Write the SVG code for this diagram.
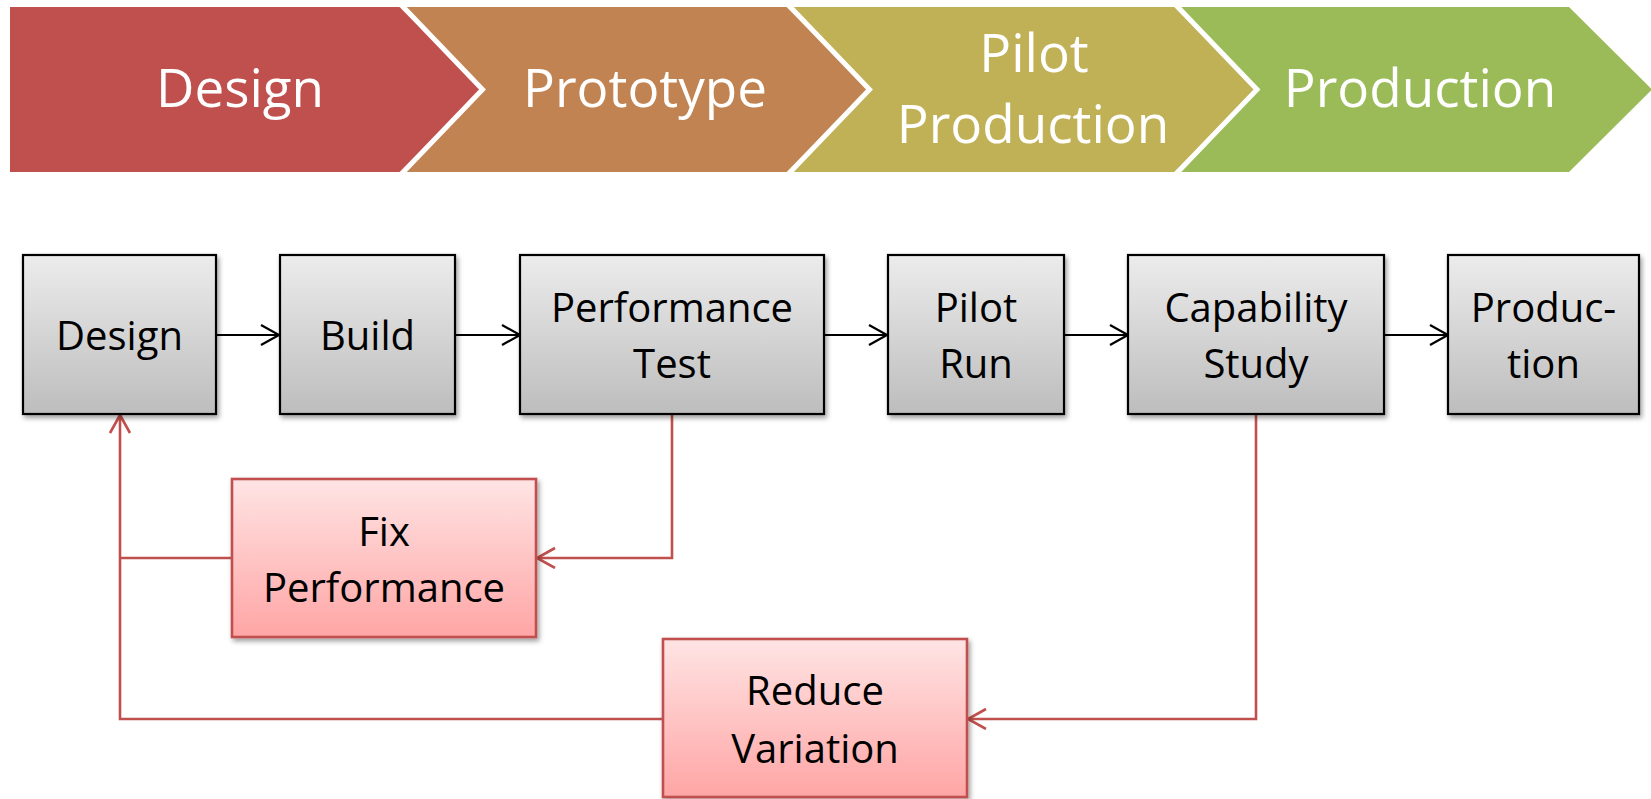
<svg xmlns="http://www.w3.org/2000/svg" width="1651" height="799" viewBox="0 0 1651 799">
  <defs>
    <linearGradient id="gGray" x1="0" y1="0" x2="0" y2="1">
      <stop offset="0" stop-color="#ECECEC"/>
      <stop offset="1" stop-color="#BDBDBD"/>
    </linearGradient>
    <linearGradient id="gRed" x1="0" y1="0" x2="0" y2="1">
      <stop offset="0" stop-color="#FFE4E4"/>
      <stop offset="1" stop-color="#FFA5A5"/>
    </linearGradient>
    <filter id="shadow" x="-10%" y="-10%" width="125%" height="130%">
      <feDropShadow dx="2" dy="3" stdDeviation="2.5" flood-color="#000" flood-opacity="0.38"/>
    </filter>
    <marker id="arrowBlack" markerUnits="userSpaceOnUse" markerWidth="24" markerHeight="26" refX="19" refY="11" orient="auto">
      <path d="M1,1 L19,11 L1,21" fill="none" stroke="#000" stroke-width="2.2"/>
    </marker>
    <marker id="arrowRed" markerUnits="userSpaceOnUse" markerWidth="24" markerHeight="26" refX="19" refY="11" orient="auto">
      <path d="M1,1 L19,11 L1,21" fill="none" stroke="#C0504D" stroke-width="2.6"/>
    </marker>
  </defs>
  <style>
    .phase { font-family: "Open Sans", "Liberation Sans", sans-serif; font-size: 53px; fill: #FFFFFF; text-anchor: middle; }
    .lbl { font-family: "Open Sans", "Liberation Sans", sans-serif; font-size: 40px; fill: #000000; text-anchor: middle; }
    .step { fill: url(#gGray); stroke: #000; stroke-width: 2.2; filter: url(#shadow); }
    .fix { fill: url(#gRed); stroke: #C0504D; stroke-width: 2.6; filter: url(#shadow); }
    .flow { fill: none; stroke: #000; stroke-width: 2; marker-end: url(#arrowBlack); }
    .loop { fill: none; stroke: #C0504D; stroke-width: 2.6; }
    .sep { fill: none; stroke: #FFFFFF; stroke-width: 5; stroke-linejoin: miter; }
  </style>

  <rect x="0" y="0" width="1651" height="799" fill="#FFFFFF"/>

  <!-- Phase chevrons -->
  <g id="phase-design">
    <path d="M10,7 H399.5 L482.5,89.5 L399.5,172 H10 Z" fill="#C0504D"/>
    <text class="phase" x="240" y="107">Design</text>
  </g>
  <g id="phase-prototype">
    <path d="M399.5,7 H786.5 L869.5,89.5 L786.5,172 H399.5 L482.5,89.5 Z" fill="#C08351"/>
    <text class="phase" x="645" y="107">Prototype</text>
  </g>
  <g id="phase-pilot">
    <path d="M786.5,7 H1174 L1257,89.5 L1174,172 H786.5 L869.5,89.5 Z" fill="#C0B157"/>
    <text class="phase" x="1034" y="72">Pilot</text>
    <text class="phase" x="1033" y="143">Production</text>
  </g>
  <g id="phase-production">
    <path d="M1174,7 H1569 L1652,89.5 L1569,172 H1174 L1257,89.5 Z" fill="#9BBB59"/>
    <text class="phase" x="1420" y="107">Production</text>
  </g>
  <g id="phase-separators">
    <polyline class="sep" points="399.5,3 482.5,89.5 399.5,176"/>
    <polyline class="sep" points="786.5,3 869.5,89.5 786.5,176"/>
    <polyline class="sep" points="1174,3 1257,89.5 1174,176"/>
  </g>

  <!-- Connectors -->
  <g id="connectors">
    <line class="flow" x1="216" y1="335" x2="279" y2="335"/>
    <line class="flow" x1="455" y1="335" x2="520" y2="335"/>
    <line class="flow" x1="824" y1="335" x2="887" y2="335"/>
    <line class="flow" x1="1064" y1="335" x2="1128" y2="335"/>
    <line class="flow" x1="1384" y1="335" x2="1448" y2="335"/>
    <!-- performance test failure loop -->
    <polyline class="loop" points="672,414 672,558 537,558" marker-end="url(#arrowRed)"/>
    <line class="loop" x1="232" y1="558" x2="120" y2="558"/>
    <!-- capability study failure loop -->
    <polyline class="loop" points="1256,414 1256,719 968,719" marker-end="url(#arrowRed)"/>
    <polyline class="loop" points="663,719 120,719 120,415" marker-end="url(#arrowRed)"/>
  </g>

  <!-- Process steps -->
  <g id="step-design">
    <rect class="step" x="23" y="255" width="193" height="159"/>
    <text class="lbl" x="119.5" y="350">Design</text>
  </g>
  <g id="step-build">
    <rect class="step" x="280" y="255" width="175" height="159"/>
    <text class="lbl" x="367.5" y="350">Build</text>
  </g>
  <g id="step-performance-test">
    <rect class="step" x="520" y="255" width="304" height="159"/>
    <text class="lbl" x="672" y="322">Performance</text>
    <text class="lbl" x="672" y="378">Test</text>
  </g>
  <g id="step-pilot-run">
    <rect class="step" x="888" y="255" width="176" height="159"/>
    <text class="lbl" x="976" y="322">Pilot</text>
    <text class="lbl" x="976" y="378">Run</text>
  </g>
  <g id="step-capability-study">
    <rect class="step" x="1128" y="255" width="256" height="159"/>
    <text class="lbl" x="1256" y="322">Capability</text>
    <text class="lbl" x="1256" y="378">Study</text>
  </g>
  <g id="step-production">
    <rect class="step" x="1448" y="255" width="191" height="159"/>
    <text class="lbl" x="1543.5" y="322">Produc-</text>
    <text class="lbl" x="1543.5" y="378">tion</text>
  </g>

  <!-- Corrective actions -->
  <g id="fix-performance">
    <rect class="fix" x="232" y="479" width="304" height="158"/>
    <text class="lbl" x="384" y="546">Fix</text>
    <text class="lbl" x="384" y="602">Performance</text>
  </g>
  <g id="reduce-variation">
    <rect class="fix" x="663" y="639" width="304" height="158"/>
    <text class="lbl" x="815" y="705">Reduce</text>
    <text class="lbl" x="815" y="763">Variation</text>
  </g>
</svg>
